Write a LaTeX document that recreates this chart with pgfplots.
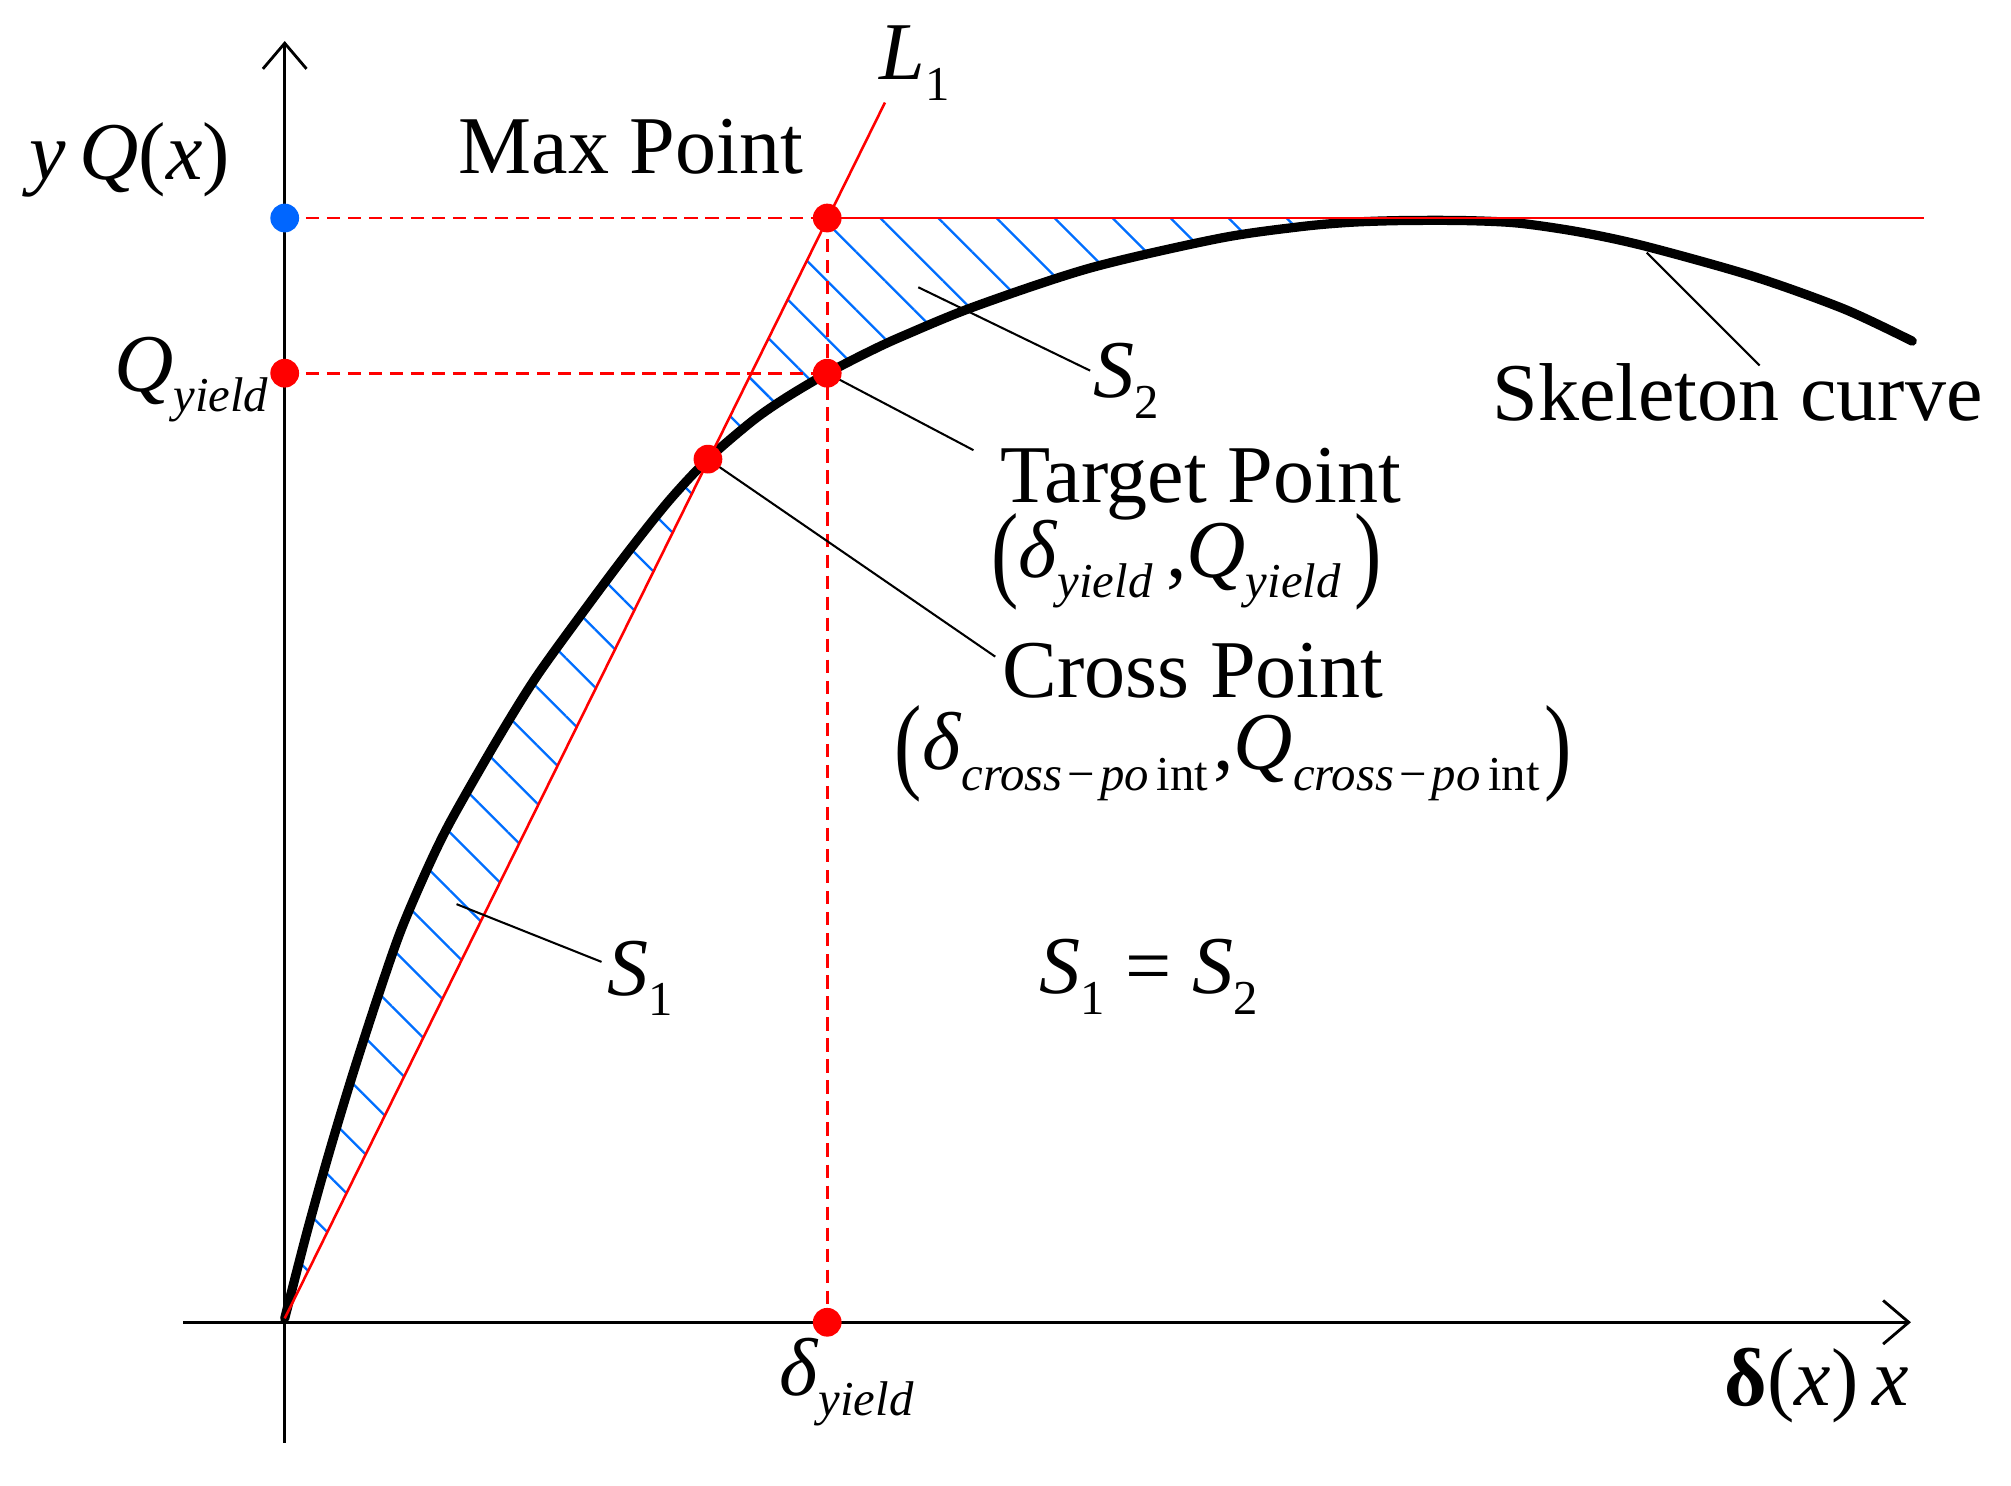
\documentclass[border=0pt]{standalone}
\usepackage{fontspec}
\setmainfont{Liberation Serif}
\usepackage{pgfplots}
\usepackage{pgfplotstable}
\pgfplotsset{compat=1.18}
\usepgfplotslibrary{fillbetween}
\usetikzlibrary{arrows.meta,patterns.meta}
\definecolor{HatchBlue}{RGB}{0,110,255}
\definecolor{PtRed}{RGB}{255,0,0}
\definecolor{PtBlue}{RGB}{0,102,255}
\newcommand{\sub}[1]{\raisebox{-4pt}{\fontsize{9.5}{10}\selectfont\itshape #1}}
\newcommand{\subn}[1]{\raisebox{-4pt}{\fontsize{9.5}{10}\selectfont #1}}
\newcommand{\cp}{cross\kern1pt\upshape−\kern1pt\itshape po\kern1.5pt\upshape int}
\newcommand{\lp}{\raisebox{-2pt}{\scalebox{1}[1.3]{(}}}
\newcommand{\rp}{\raisebox{-2pt}{\scalebox{1}[1.3]{)}}}

% skeleton curve (x right, y up)
\pgfplotstableread{
X Y
0 3
17 69
34 130
52 190
72 252
90 304
110 351
129 390
165 453
196 503
235 557
268 601
300 641
330 673
365 703
391 721
423 740
456 757
482 769
538 792
628 822
728 845
790 854
830 857.6
870 859
920 859
962 857
1010 850
1061 839
1145 815.5
1216 790
1269 765
}\skel

\begin{document}
\begin{tikzpicture}[lab/.style={font=\fontsize{16}{19}\selectfont, inner sep=0pt, anchor=base west}]
\begin{axis}[
  x=0.25pt, y=0.25pt,
  xmin=-222, xmax=1346, ymin=-127, ymax=1031,
  hide axis, clip=false, scale only axis,
]
\path (axis cs:-222,-127) rectangle (axis cs:1346,1031);

% invisible boundaries for the two areas
\addplot[draw=none, smooth, restrict x to domain=0:330, name path=skelA, forget plot] table {\skel};
\addplot[draw=none, smooth, restrict x to domain=330:920, name path=skelB, forget plot] table {\skel};
\addplot[draw=none, name path=lone, forget plot] coordinates {(0,3) (330,673)};
\addplot[draw=none, name path=upper, forget plot] coordinates {(330,673) (423,861) (920,861)};
\addplot[draw=none, pattern={Lines[angle=-45,distance=8pt,line width=0.45pt]}, pattern color=HatchBlue]
  fill between[of=skelA and lone];
\addplot[draw=none, pattern={Lines[angle=-45,distance=8pt,line width=0.45pt]}, pattern color=HatchBlue]
  fill between[of=skelB and upper];

% axes
\addplot[black, line width=0.55pt, -{Straight Barb[length=5pt,width=8.5pt]}] coordinates {(-79,0) (1268,0)};
\addplot[black, line width=0.55pt, -{Straight Barb[length=5pt,width=8.5pt]}] coordinates {(0,-94) (0,999)};

% skeleton curve
\addplot[black, line width=1.8pt, smooth, line cap=round] table {\skel};

% L1 and max level
\addplot[PtRed, line width=0.5pt] coordinates {(0,3) (468,951)};
\addplot[PtRed, line width=0.5pt] coordinates {(423,861) (1278,861)};
\addplot[PtRed, line width=0.55pt, dash pattern=on 2.6pt off 1.5pt] coordinates {(0,861) (423,861)};
\addplot[PtRed, line width=0.55pt, dash pattern=on 2.6pt off 1.5pt] coordinates {(0,740) (423,740)};
\addplot[PtRed, line width=0.55pt, dash pattern=on 2.6pt off 1.5pt] coordinates {(423,861) (423,0)};

% leader lines
\addplot[black, line width=0.4pt] coordinates {(494,807) (628,742)};
\addplot[black, line width=0.4pt] coordinates {(423,740) (537,680)};
\addplot[black, line width=0.4pt] coordinates {(330,673) (554,519)};
\addplot[black, line width=0.4pt] coordinates {(134,326) (247,281)};
\addplot[black, line width=0.4pt] coordinates {(1062,834) (1150,746)};

% points
\addplot[only marks, mark=*, mark size=2.6pt, PtRed] coordinates {(423,861) (0,740) (423,740) (330,673) (423,0)};
\addplot[only marks, mark=*, mark size=2.6pt, PtBlue] coordinates {(0,861)};

% labels
\node[lab] at (axis cs:-200,891) {\textit{y}\,\textit{Q}(\textit{x})};
\node[lab] at (axis cs:463,969) {\textit{L}\subn{1}};
\node[lab] at (axis cs:135,896) {Max Point};
\node[lab, anchor=base east] at (axis cs:-12,726) {\textit{Q}\sub{yield}};
\node[lab] at (axis cs:630,721) {\textit{S}\subn{2}};
\node[lab] at (axis cs:941,703) {Skeleton curve};
\node[lab] at (axis cs:557,639) {Target Point};
\node[lab] at (axis cs:550,581) {\lp\textit{δ}\sub{yield}\,,\textit{Q}\sub{yield}\,\rp};
\node[lab] at (axis cs:559,487) {Cross Point};
\node[lab] at (axis cs:475,431) {\lp\textit{δ}\sub{\cp}\kern1pt,\textit{Q}\sub{\cp}\kern1pt\rp};
\node[lab] at (axis cs:251,255) {\textit{S}\subn{1}};
\node[lab] at (axis cs:588,256) {\textit{S}\subn{1} = \textit{S}\subn{2}};
\node[lab] at (axis cs:385,-57) {\textit{δ}\sub{yield}};
\node[lab] at (axis cs:1122,-65) {\textbf{δ}(\textit{x})\,\textit{x}};
\end{axis}
\end{tikzpicture}
\end{document}
